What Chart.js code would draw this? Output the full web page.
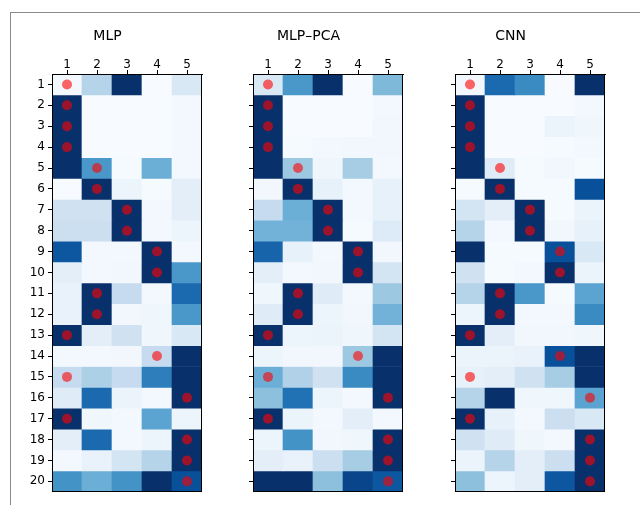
<!DOCTYPE html>
<html>
<head>
<meta charset="utf-8">
<script src="https://cdn.jsdelivr.net/npm/chart.js@4/dist/chart.umd.min.js"></script>
<style>
  html, body { margin: 0; padding: 0; background: #fff; overflow: hidden; }
  body { width: 640px; height: 505px; position: relative; }
  #frame { position: absolute; left: 10px; top: 12px; width: 700px; height: 600px;
           border-left: 1px solid #8a8a8a; border-top: 1px solid #8a8a8a; }
  .panel { position: absolute; top: 21px; width: 195px; height: 481px; }
</style>
</head>
<body>
<div id="frame"></div>
<div class="panel" style="left:12px"><canvas id="c0"></canvas></div>
<div class="panel" style="left:213px"><canvas id="c1"></canvas></div>
<div class="panel" style="left:415px"><canvas id="c2"></canvas></div>
<script>
// الفئات والصفوف
const classLabels = ['1', '2', '3', '4', '5'];
const sampleLabels = [1,2,3,4,5,6,7,8,9,10,11,12,13,14,15,16,17,18,19,20];
const panelTitles = ['MLP', 'MLP\u2013PCA', 'CNN'];

// الفئة الصحيحة لكل عينة (النقاط الحمراء)
const trueClass = ['1','1','1','1','2','2','3','3','4','4','2','2','1','4','1','5','1','5','5','5'];

// قيم الاحتمالات المقدرة لكل نموذج
const mlpValues = [
  [0.02, 0.30, 1.00, 0.00, 0.15],
  [1.00, 0.00, 0.00, 0.00, 0.02],
  [1.00, 0.00, 0.00, 0.00, 0.02],
  [1.00, 0.00, 0.00, 0.00, 0.02],
  [1.00, 0.60, 0.01, 0.50, 0.02],
  [0.00, 1.00, 0.05, 0.01, 0.10],
  [0.20, 0.20, 1.00, 0.02, 0.10],
  [0.22, 0.22, 1.00, 0.02, 0.05],
  [0.85, 0.02, 0.02, 1.00, 0.02],
  [0.10, 0.02, 0.03, 1.00, 0.60],
  [0.07, 1.00, 0.25, 0.02, 0.78],
  [0.07, 1.00, 0.03, 0.04, 0.60],
  [1.00, 0.10, 0.20, 0.04, 0.15],
  [0.02, 0.02, 0.03, 0.25, 1.00],
  [0.25, 0.33, 0.25, 0.70, 1.00],
  [0.12, 0.78, 0.06, 0.02, 1.00],
  [1.00, 0.04, 0.02, 0.55, 0.05],
  [0.10, 0.78, 0.02, 0.05, 1.00],
  [0.02, 0.07, 0.18, 0.30, 1.00],
  [0.62, 0.50, 0.62, 1.00, 0.88]
];
const mlpPcaValues = [
  [0.15, 0.60, 1.00, 0.00, 0.45],
  [1.00, 0.00, 0.00, 0.00, 0.02],
  [1.00, 0.00, 0.00, 0.00, 0.03],
  [1.00, 0.01, 0.02, 0.03, 0.03],
  [1.00, 0.38, 0.04, 0.35, 0.02],
  [0.03, 1.00, 0.08, 0.02, 0.08],
  [0.25, 0.50, 1.00, 0.02, 0.08],
  [0.48, 0.48, 1.00, 0.01, 0.13],
  [0.80, 0.08, 0.02, 1.00, 0.03],
  [0.10, 0.02, 0.03, 1.00, 0.18],
  [0.04, 1.00, 0.12, 0.02, 0.38],
  [0.12, 1.00, 0.05, 0.03, 0.48],
  [1.00, 0.05, 0.06, 0.04, 0.18],
  [0.05, 0.03, 0.03, 0.38, 1.00],
  [0.50, 0.32, 0.20, 0.65, 1.00],
  [0.42, 0.75, 0.05, 0.02, 1.00],
  [1.00, 0.06, 0.02, 0.10, 0.02],
  [0.05, 0.62, 0.03, 0.04, 1.00],
  [0.10, 0.07, 0.22, 0.35, 1.00],
  [1.00, 1.00, 0.42, 0.92, 0.85]
];
const cnnValues = [
  [0.03, 0.78, 0.65, 0.00, 1.00],
  [1.00, 0.00, 0.00, 0.00, 0.02],
  [1.00, 0.00, 0.00, 0.06, 0.04],
  [1.00, 0.00, 0.00, 0.01, 0.02],
  [1.00, 0.12, 0.01, 0.03, 0.01],
  [0.01, 1.00, 0.01, 0.01, 0.88],
  [0.18, 0.10, 1.00, 0.01, 0.06],
  [0.30, 0.02, 1.00, 0.03, 0.08],
  [1.00, 0.01, 0.01, 0.88, 0.15],
  [0.20, 0.01, 0.02, 1.00, 0.06],
  [0.30, 1.00, 0.60, 0.01, 0.55],
  [0.05, 1.00, 0.02, 0.02, 0.65],
  [1.00, 0.10, 0.03, 0.03, 0.04],
  [0.06, 0.06, 0.07, 0.88, 1.00],
  [0.08, 0.10, 0.20, 0.35, 1.00],
  [0.30, 1.00, 0.04, 0.04, 0.55],
  [1.00, 0.08, 0.02, 0.22, 0.15],
  [0.20, 0.12, 0.04, 0.02, 1.00],
  [0.06, 0.30, 0.10, 0.22, 1.00],
  [0.42, 0.05, 0.10, 0.85, 1.00]
];
const allValues = [mlpValues, mlpPcaValues, cnnValues];

// خريطة ألوان Blues
const bluesStops = ['#f7fbff','#deebf7','#c6dbef','#9ecae1','#6baed6','#4292c6','#2171b5','#08519c','#08306b'];
function hexToRgb(h) {
  return [parseInt(h.slice(1,3),16), parseInt(h.slice(3,5),16), parseInt(h.slice(5,7),16)];
}
function blues(v) {
  v = Math.max(0, Math.min(1, v));
  const pos = v * (bluesStops.length - 1);
  const i = Math.min(Math.floor(pos), bluesStops.length - 2);
  const t = pos - i;
  const a = hexToRgb(bluesStops[i]), b = hexToRgb(bluesStops[i + 1]);
  const c = a.map((x, k) => Math.round(x + (b[k] - x) * t));
  return `rgb(${c[0]},${c[1]},${c[2]})`;
}

// إطار حول منطقة الرسم
const boxPlugin = {
  id: 'box',
  afterDraw(chart) {
    const a = chart.chartArea, ctx = chart.ctx;
    ctx.save();
    ctx.strokeStyle = '#000';
    ctx.lineWidth = 1;
    ctx.strokeRect(Math.round(a.left) + 0.5, Math.round(a.top) + 0.5,
                   Math.round(a.right - a.left) - 1, Math.round(a.bottom - a.top) - 1);
    ctx.restore();
  }
};

const charts = [];
allValues.forEach((values, p) => {
  const datasets = [{
    type: 'scatter',
    order: 0,
    data: trueClass.map((c, i) => ({ x: c, y: sampleLabels[i] })),
    backgroundColor: 'rgba(255,0,0,0.6)',
    borderWidth: 0,
    pointRadius: 5
  }];
  sampleLabels.forEach((r, i) => {
    datasets.push({
      type: 'bar',
      order: 1,
      data: classLabels.map(() => [r - 0.5, r + 0.5]),
      backgroundColor: values[i].map(blues),
      borderWidth: 0,
      barPercentage: 1,
      categoryPercentage: 1
    });
  });

  charts.push(new Chart(document.getElementById('c' + p), {
    data: { labels: classLabels, datasets: datasets },
    options: {
      responsive: true,
      maintainAspectRatio: false,
      animation: false,
      layout: { padding: { top: 0, right: 4, bottom: 5, left: 0 } },
      plugins: {
        legend: { display: false },
        tooltip: { enabled: false },
        title: {
          display: true,
          text: panelTitles[p],
          color: '#000',
          font: { family: 'DejaVu Sans', size: 14, weight: 'normal' },
          padding: { top: 7, bottom: 4 }
        }
      },
      scales: {
        x: {
          type: 'category',
          position: 'top',
          stacked: true,
          offset: true,
          grid: { display: true, drawOnChartArea: false, tickLength: 4, color: '#000', offset: false },
          border: { display: true, color: '#000' },
          ticks: { color: '#000', padding: -2, font: { family: 'DejaVu Sans', size: 12 } },
          afterFit(axis) { axis.height = 25.2; }
        },
        y: {
          type: 'linear',
          reverse: true,
          min: 0.5,
          max: 20.5,
          grid: { display: true, drawOnChartArea: false, tickLength: 4, color: '#000' },
          border: { display: true, color: '#000' },
          ticks: {
            color: '#000',
            padding: 3,
            font: { family: 'DejaVu Sans', size: 12 },
            callback: (v) => p === 0 ? String(v) : ''
          },
          afterBuildTicks(axis) { axis.ticks = sampleLabels.map(v => ({ value: v })); },
          afterFit(axis) { axis.width = 40; }
        }
      }
    },
    plugins: [boxPlugin]
  }));
});
</script>
</body>
</html>
